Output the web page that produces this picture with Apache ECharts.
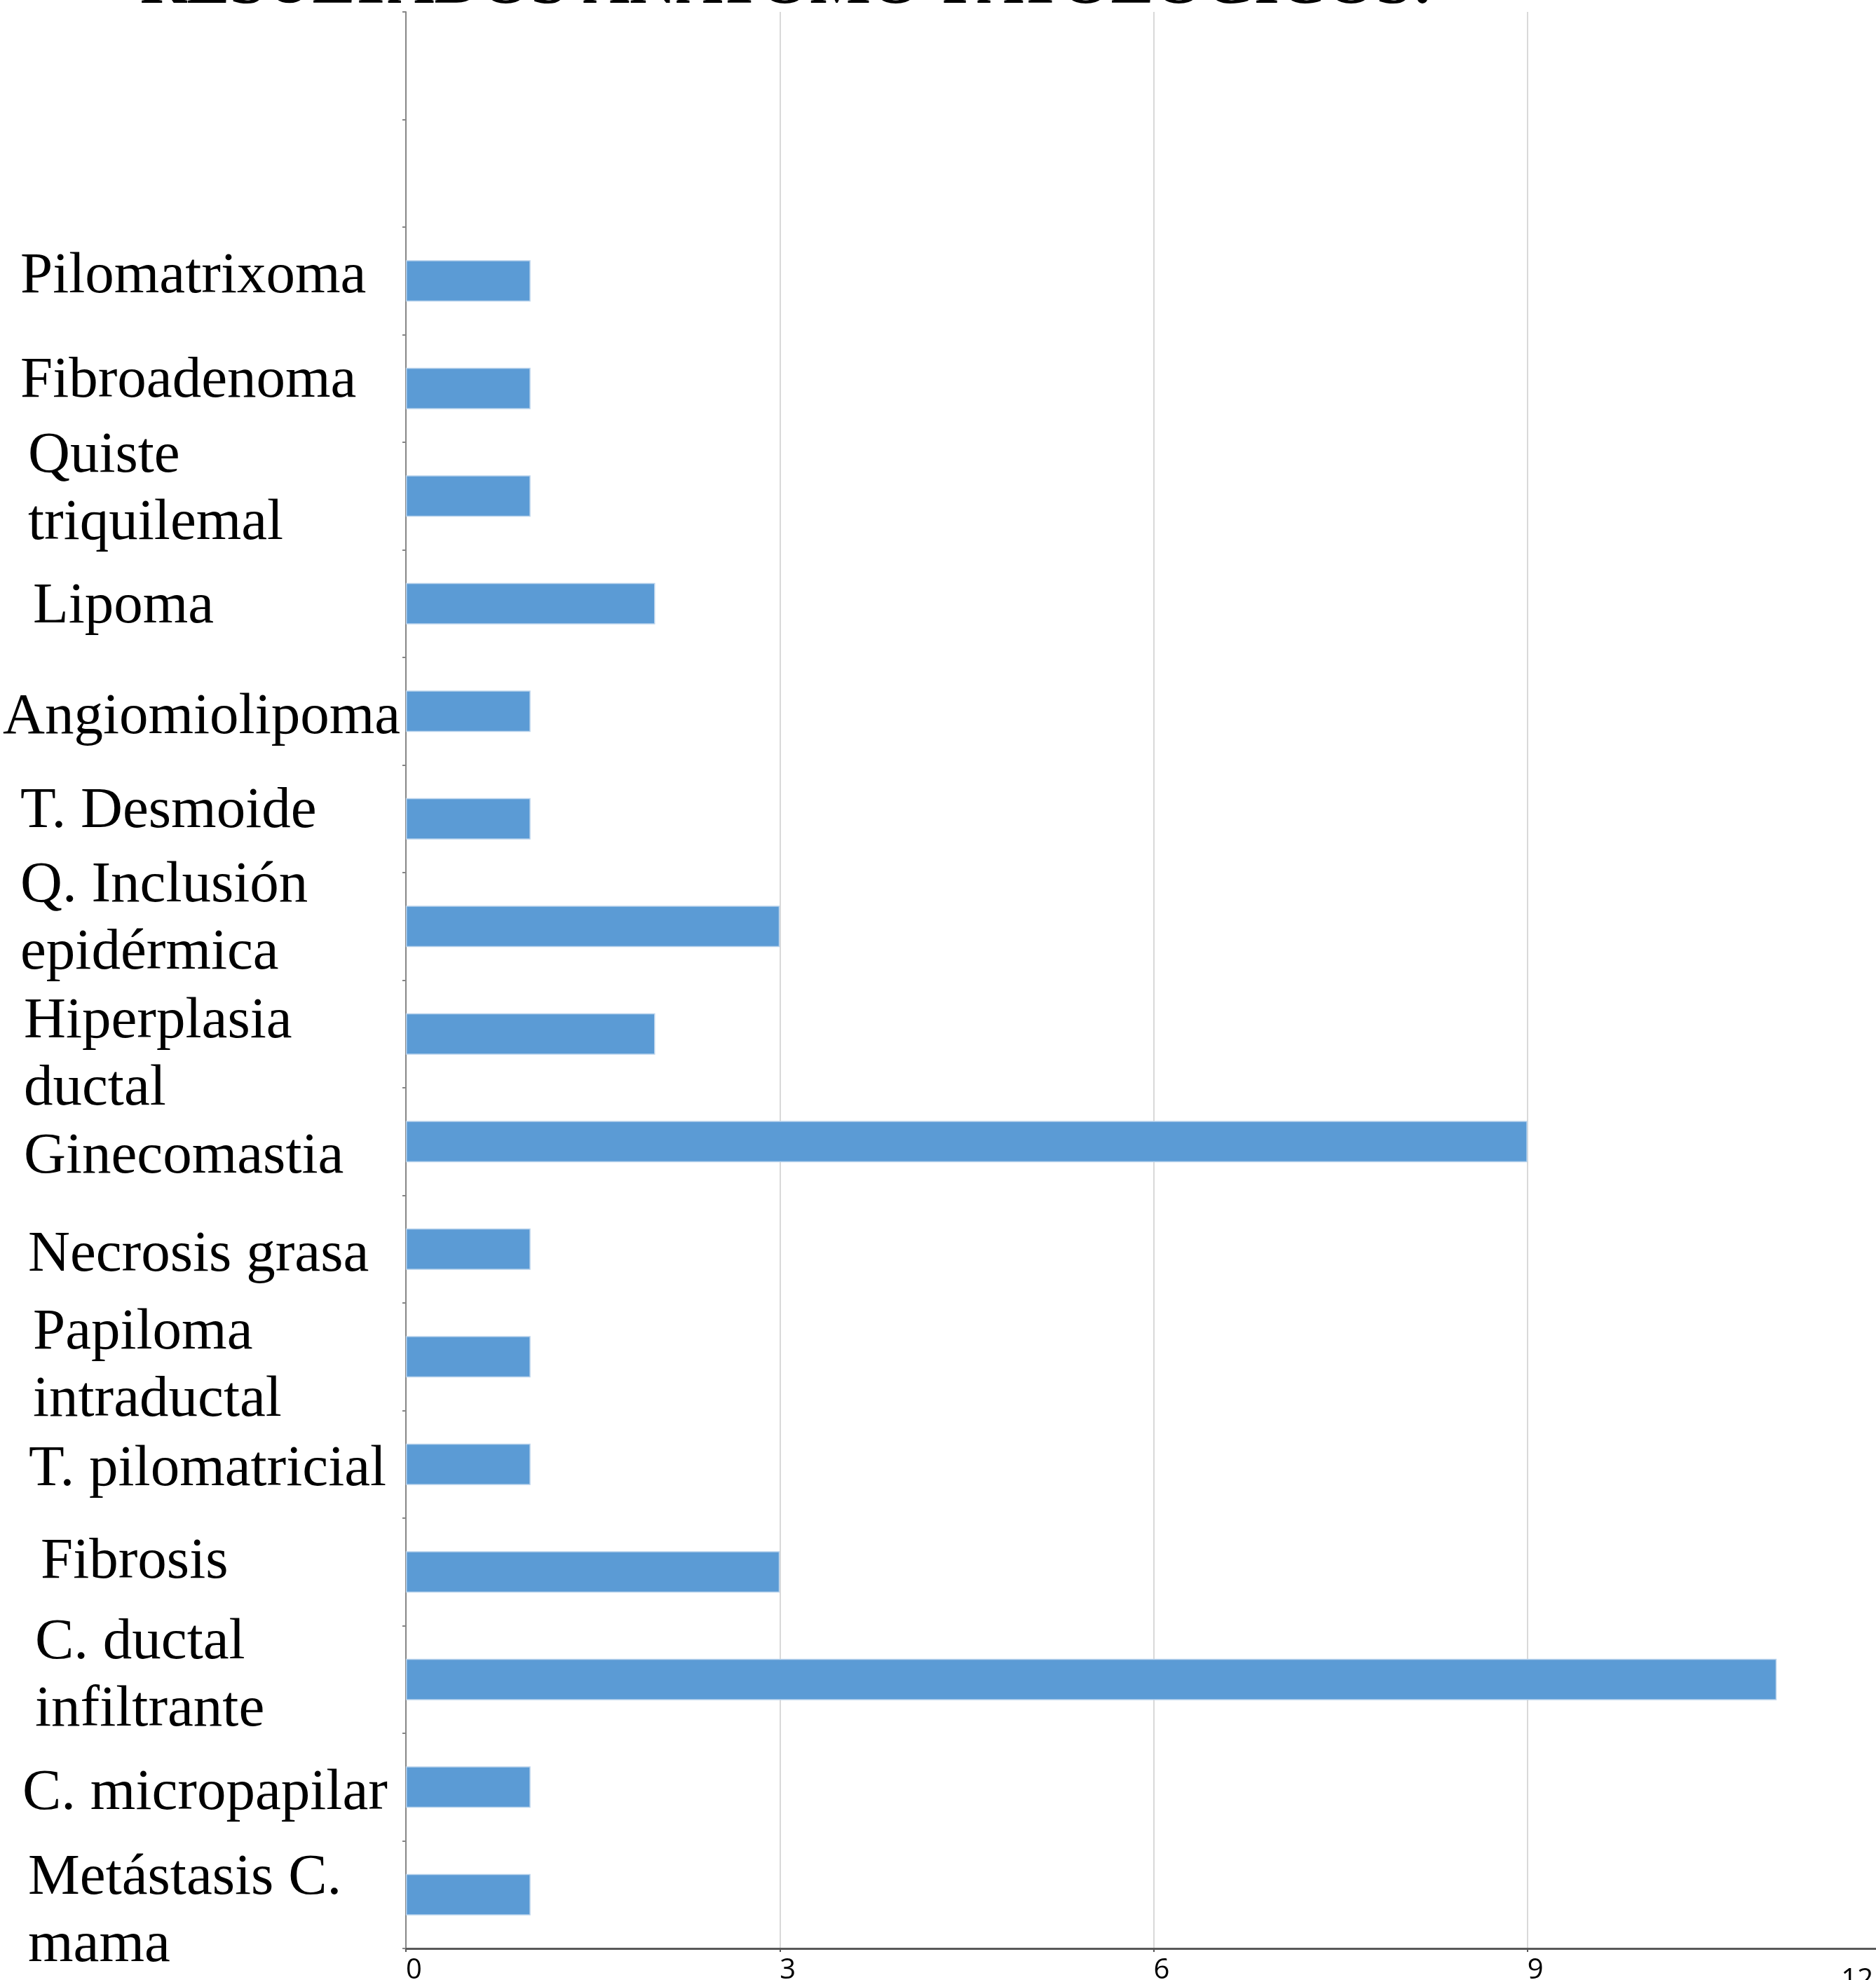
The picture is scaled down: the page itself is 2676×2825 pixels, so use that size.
<!DOCTYPE html>
<html>
<head>
<meta charset="utf-8">
<script src="https://cdn.jsdelivr.net/npm/echarts@6/dist/echarts.min.js"></script>
<style>
    html, body { margin: 0; padding: 0; background: #ffffff; }
    #chart { width: 2676px; height: 2825px; }
</style>
</head>
<body>
<div id="chart"></div>
<script>
// categories top to bottom (two empty slots at the top of the axis)
const categories = [
    ' ', '  ',
    'Pilomatrixoma',
    'Fibroadenoma',
    'Quiste\ntriquilemal',
    'Lipoma',
    'Angiomiolipoma',
    'T. Desmoide',
    'Q. Inclusión\nepidérmica',
    'Hiperplasia\nductal',
    'Ginecomastia',
    'Necrosis grasa',
    'Papiloma\nintraductal',
    'T. pilomatricial',
    'Fibrosis',
    'C. ductal\ninfiltrante',
    'C. micropapilar',
    'Metástasis C.\nmama'
];
const values = [null, null, 1, 1, 1, 2, 1, 1, 3, 2, 9, 1, 1, 1, 3, 11, 1, 1];
const xTicks = [0, 3, 6, 9, 12];
const title = 'RESULTADOS ANATOMO-PATOLÓGICOS:';

// label nudges as in the original slide: [indent from left, vertical shift]
const labelNudge = {
    'Pilomatrixoma': [25, -6],
    'Fibroadenoma': [25, -10],
    'Quiste\ntriquilemal': [36, -9],
    'Lipoma': [43, 5],
    'Angiomiolipoma': [0, 9],
    'T. Desmoide': [25, -10],
    'Q. Inclusión\nepidérmica': [25, -10],
    'Hiperplasia\nductal': [30, 31],
    'Ginecomastia': [30, 22],
    'Necrosis grasa': [36, 9],
    'Papiloma\nintraductal': [43, 14],
    'T. pilomatricial': [37, 8],
    'Fibrosis': [54, -14],
    'C. ductal\ninfiltrante': [46, -4],
    'C. micropapilar': [28, 9],
    'Metástasis C.\nmama': [36, 25]
};

const catFont = {
    fontFamily: '"Liberation Serif"',
    fontSize: 83,
    lineHeight: 96,
    color: '#000000'
};

// one text style and one spacer line per category label
const catRich = {};
categories.forEach(function (name, i) {
    const n = labelNudge[name];
    if (!n) return;
    catRich['t' + i] = Object.assign({}, catFont, { padding: [0, 0, 0, n[0]] });
    catRich['s' + i] = { fontSize: 1, lineHeight: Math.max(1, Math.abs(n[1]) * 2) };
});

function catLabel(value, index) {
    const n = labelNudge[value];
    if (!n) return value;
    const body = value.split('\n').map(function (l) {
        return '{t' + index + '|' + l + '}';
    }).join('\n');
    const spacer = '{s' + index + '| }';
    if (n[1] > 0) return spacer + '\n' + body;
    if (n[1] < 0) return body + '\n' + spacer;
    return body;
}

const chart = echarts.init(document.getElementById('chart'));

const option = {
    backgroundColor: '#ffffff',
    animation: false,
    graphic: [{
        type: 'text',
        left: 200,
        top: -66,
        style: {
            text: title,
            font: 'bold 92px "Liberation Serif"',
            fill: '#000000'
        }
    }],
    grid: {
        left: 579,
        width: 2133,
        top: 17,
        bottom: 45,
        containLabel: false,
        outerBoundsMode: 'none'
    },
    xAxis: {
        type: 'value',
        min: xTicks[0],
        max: xTicks[xTicks.length - 1],
        interval: 3,
        axisLine: { show: true, lineStyle: { color: '#595959', width: 3 } },
        axisTick: { show: true, length: 5, lineStyle: { color: '#595959', width: 2 } },
        splitLine: { show: true, lineStyle: { color: '#d9d9d9', width: 2 } },
        axisLabel: {
            show: true,
            align: 'left',
            margin: 12,
            fontFamily: '"Open Sans"',
            fontSize: 40,
            color: '#000000',
            alignMaxLabel: 'right',
            formatter: function (v) {
                return v === 12 ? '{last|' + v + '}' : String(v);
            },
            rich: {
                // the 12 label sits left of its off-canvas tick
                last: { fontFamily: '"Open Sans"', fontSize: 40, color: '#000000', padding: [14, 40, 0, 0] }
            }
        }
    },
    yAxis: {
        type: 'category',
        inverse: true,
        data: categories,
        axisLine: { show: true, onZero: false, lineStyle: { color: '#868686', width: 2 } },
        axisTick: { show: true, length: 5, lineStyle: { color: '#868686', width: 2 } },
        splitLine: { show: false },
        axisLabel: Object.assign({
            show: true,
            interval: 0,
            margin: 575,
            align: 'left',
            verticalAlign: 'middle',
            formatter: catLabel,
            rich: catRich
        }, catFont)
    },
    series: [{
        type: 'bar',
        data: values,
        barWidth: 59,
        itemStyle: {
            color: '#5b9bd5',
            borderColor: '#b8d2ec',
            borderWidth: 1.5
        }
    }]
};

chart.setOption(option);
</script>
</body>
</html>
